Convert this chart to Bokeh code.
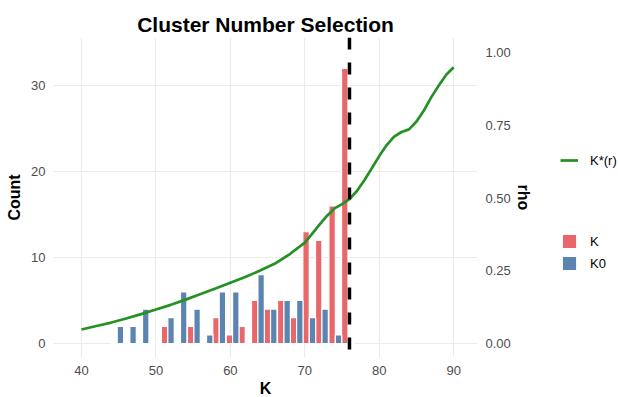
from bokeh.plotting import figure
from bokeh.layouts import row
from bokeh.models import (Range1d, LinearAxis, FixedTicker, Span, Legend, LegendItem,
                          ColumnDataSource, PrintfTickFormatter)
from bokeh.embed import file_html
from bokeh.resources import INLINE

# ---- data ----
bin_centers = [44.8, 46.5, 48.2, 49.9, 51.6, 53.3, 55.1, 56.8, 58.5, 60.3,
               62.0, 63.7, 65.4, 67.2, 68.9, 70.6, 72.3, 74.1, 75.8]
k_counts = [0, 0, 0, 0, 2, 0, 2, 0, 3, 1, 2, 5, 4, 5, 3, 13, 12, 16, 32]
k0_counts = [2, 2, 4, 0, 3, 6, 4, 1, 6, 6, 0, 8, 4, 5, 5, 3, 4, 1, 0]

curve_k = [40, 42, 44, 46, 48, 50, 52, 54, 56, 58, 60, 62, 64, 66, 68, 70,
           71, 72, 73, 74, 75, 76, 77, 78, 79, 80, 81, 82, 83, 84, 85, 86, 87, 88, 89, 90]
curve_rho = [0.048, 0.060, 0.072, 0.086, 0.101, 0.117, 0.133, 0.151, 0.170, 0.189,
             0.209, 0.229, 0.251, 0.275, 0.308, 0.347, 0.378, 0.410, 0.440, 0.465,
             0.480, 0.497, 0.525, 0.562, 0.603, 0.645, 0.683, 0.712, 0.728, 0.737,
             0.764, 0.802, 0.848, 0.888, 0.925, 0.951]

selected_k = 76
x_ticks = [40, 50, 60, 70, 80, 90]
count_ticks = [0, 10, 20, 30]
rho_ticks = [0.0, 0.25, 0.5, 0.75, 1.0]

RHO_SCALE = 33.8          # count units that correspond to rho = 1
BAR_W = 0.862             # dodge width of one bar (K units)
FONT = "Liberation Sans"
RED = "#E8676A"
BLUE = "#5B84B1"
GREEN = "#259125"

MAIN_W = 557
TOTAL_W = 618
TOTAL_H = 397

y0, y1 = -1.63, 35.6
p = figure(frame_width=424, frame_height=320,
           x_range=Range1d(36.24, 93.2), y_range=Range1d(y0, y1),
           output_backend="svg", toolbar_location=None,
           title="Cluster Number Selection",
           min_border_left=53, min_border_right=MAIN_W - 53 - 424,
           min_border_top=37, min_border_bottom=40)
p.extra_y_ranges = {"rho": Range1d(y0 / RHO_SCALE, y1 / RHO_SCALE)}
p.outline_line_color = None
p.background_fill_color = "white"
p.border_fill_color = "white"

p.title.text_font = FONT
p.title.text_font_size = "21px"
p.title.text_font_style = "bold"
p.title.align = "center"
p.title.text_line_height = 0.75
p.title.text_color = "black"
p.title.standoff = 4

# grid
p.xgrid.ticker = FixedTicker(ticks=x_ticks)
p.ygrid.ticker = FixedTicker(ticks=count_ticks)
for g in (p.xgrid, p.ygrid):
    g.grid_line_color = "#EBEBEB"
    g.grid_line_width = 1.1

# bars
src = ColumnDataSource(dict(
    xk=[c - BAR_W / 2 for c in bin_centers],
    xk0=[c + BAR_W / 2 for c in bin_centers],
    k=k_counts, k0=k0_counts))
p.vbar(x="xk", top="k", bottom=0, width=BAR_W, source=src,
       fill_color=RED, line_color="white", line_width=1.2)
p.vbar(x="xk0", top="k0", bottom=0, width=BAR_W, source=src,
       fill_color=BLUE, line_color="white", line_width=1.2)

# curve on secondary axis
p.line(curve_k, curve_rho, y_range_name="rho", line_color=GREEN, line_width=2.7)

# selected K
p.add_layout(Span(location=selected_k, dimension="height", line_color="black",
                  line_width=3.5, line_dash="12 13"))

# axes
p.xaxis.ticker = FixedTicker(ticks=x_ticks)
p.xaxis.axis_label = "K"
p.yaxis.ticker = FixedTicker(ticks=count_ticks)
p.yaxis.axis_label = "Count"

rax = LinearAxis(y_range_name="rho", axis_label="rho",
                 ticker=FixedTicker(ticks=rho_ticks),
                 formatter=PrintfTickFormatter(format="%.2f"))
p.add_layout(rax, "right")

for ax in (p.xaxis[0], p.yaxis[0], rax):
    ax.axis_line_color = None
    ax.major_tick_line_color = None
    ax.minor_tick_line_color = None
    ax.major_tick_out = 0
    ax.major_tick_in = 0
    ax.minor_tick_out = 0
    ax.minor_tick_in = 0
    ax.major_label_text_font = FONT
    ax.major_label_text_font_size = "13px"
    ax.major_label_text_color = "#4D4D4D"
    ax.major_label_standoff = 8
    ax.axis_label_text_font = FONT
    ax.axis_label_text_font_size = "16px"
    ax.axis_label_text_font_style = "bold"
    ax.axis_label_text_color = "black"
p.xaxis[0].axis_label_standoff = 2
p.yaxis[0].axis_label_standoff = 5
rax.axis_label_standoff = 1

# ---- legend panel (separate figure to the right) ----
q = figure(width=TOTAL_W - MAIN_W, height=TOTAL_H, x_range=Range1d(0, 1), y_range=Range1d(0, 1),
           output_backend="svg", toolbar_location=None,
           min_border_left=0, min_border_right=0, min_border_top=0, min_border_bottom=0)
q.axis.visible = False
q.grid.visible = False
q.outline_line_color = None
q.background_fill_color = "white"
q.border_fill_color = "white"

# key-only renderers: their data sit outside the panel's ranges
d_line = q.line([5, 6], [5, 6], line_color=GREEN, line_width=2.7)
d_k = q.vbar(x=[5], top=[5], width=0.1, fill_color=RED, line_color="white", line_width=1.2)
d_k0 = q.vbar(x=[5], top=[5], width=0.1, fill_color=BLUE, line_color="white", line_width=1.2)

def style_legend(lg):
    lg.border_line_color = None
    lg.background_fill_alpha = 0
    lg.padding = 0
    lg.margin = 0
    lg.spacing = 4
    lg.glyph_width = 18
    lg.glyph_height = 18
    lg.label_standoff = 12
    lg.label_text_font = FONT
    lg.label_text_font_size = "13px"
    lg.label_text_color = "black"

lg1 = Legend(items=[LegendItem(label="K*(r)", renderers=[d_line])], location=(3, 186))
style_legend(lg1)
lg2 = Legend(items=[LegendItem(label="K", renderers=[d_k]),
                    LegendItem(label="K0", renderers=[d_k0])], location=(3, 83))
style_legend(lg2)
q.add_layout(lg1, "center")
q.add_layout(lg2, "center")

layout = row(p, q, spacing=0)
open("out.html", "w").write(file_html(layout, INLINE))
